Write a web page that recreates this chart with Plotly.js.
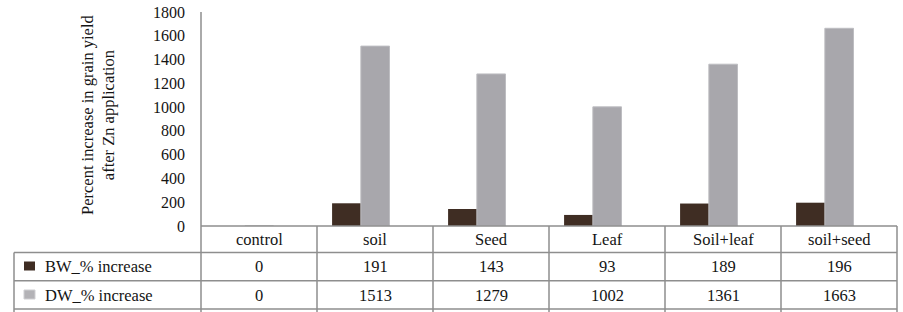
<!DOCTYPE html>
<html>
<head>
<meta charset="utf-8">
<script src="https://cdn.plot.ly/plotly-3.0.1.min.js"></script>
<style>
  html, body { margin: 0; padding: 0; background: #ffffff; }
  #chart { width: 903px; height: 312px; }
</style>
</head>
<body>
<div id="chart"></div>
<script>
// ---- Data ----
const categories = ['control', 'soil', 'Seed', 'Leaf', 'Soil+leaf', 'soil+seed'];
const bwIncrease = [0, 191, 143, 93, 189, 196];
const dwIncrease = [0, 1513, 1279, 1002, 1361, 1663];
const seriesNames = ['BW_% increase', 'DW_% increase'];
const yTickValues = [0, 200, 400, 600, 800, 1000, 1200, 1400, 1600, 1800];
const yTitleLines = ['Percent increase in grain yield', 'after Zn application'];

// ---- Layout geometry (pixels) ----
const FIG_W = 903, FIG_H = 312;
const L = 201, R = 897, T = 12, B = 226;
const W = R - L, H = B - T;
const px = x => (x - L) / W;
const py = y => (B - y) / H;

const FONT = '"Liberation Serif", Tinos, "Times New Roman", "DejaVu Serif", serif';
const TXT = '#141414';
const GRID = '#8e8e8e';
const BW_COLOR = '#3f2d23';
const DW_COLOR = '#a8a7ac';

const rowLines = [226, 252.5, 280.7, 309];
const rowCenters = [239.5, 266.5, 295];
const tableLeft = 14, tableBottom = 312;

const shapes = [];
function line(x0, y0, x1, y1) {
  shapes.push({type: 'line', xref: 'paper', yref: 'paper',
    x0: px(x0), y0: py(y0), x1: px(x1), y1: py(y1),
    line: {color: GRID, width: 1.5}});
}
line(L, rowLines[0], R, rowLines[0]);
for (let i = 1; i < rowLines.length; i++) line(tableLeft, rowLines[i], R, rowLines[i]);
line(tableLeft, rowLines[1], tableLeft, tableBottom);
line(L, T, L, tableBottom);
const n = categories.length;
for (let i = 1; i <= n; i++) {
  const x = L + i * W / n;
  line(x, rowLines[0], x, tableBottom);
}
shapes.push({type: 'rect', xref: 'paper', yref: 'paper',
  x0: px(24), x1: px(35), y0: py(261.5), y1: py(270.5),
  fillcolor: BW_COLOR, line: {width: 0}});
shapes.push({type: 'rect', xref: 'paper', yref: 'paper',
  x0: px(24), x1: px(35), y0: py(290), y1: py(299),
  fillcolor: '#b3b2b6', line: {color: '#cfcfd2', width: 1}});

const annotations = [];
const cellFont = {family: FONT, size: 16.5, color: TXT};
categories.forEach((c, i) => {
  const xc = (i + 0.5) / n;
  annotations.push({xref: 'paper', yref: 'paper', x: xc, y: py(rowCenters[0]),
    text: c, showarrow: false, xanchor: 'center', yanchor: 'middle', font: cellFont});
  annotations.push({xref: 'paper', yref: 'paper', x: xc, y: py(rowCenters[1]),
    text: String(bwIncrease[i]), showarrow: false, xanchor: 'center', yanchor: 'middle', font: cellFont});
  annotations.push({xref: 'paper', yref: 'paper', x: xc, y: py(rowCenters[2]),
    text: String(dwIncrease[i]), showarrow: false, xanchor: 'center', yanchor: 'middle', font: cellFont});
});
seriesNames.forEach((s, k) => {
  annotations.push({xref: 'paper', yref: 'paper', x: px(43), y: py(rowCenters[k + 1]),
    text: s, showarrow: false, xanchor: 'left', yanchor: 'middle', font: cellFont});
});
annotations.push({xref: 'paper', yref: 'paper', x: px(98), y: py(115),
  text: yTitleLines.join('<br>'), showarrow: false, textangle: -90,
  xanchor: 'center', yanchor: 'middle',
  font: {family: FONT, size: 16.5, color: TXT}});

const traces = [
  {type: 'bar', name: seriesNames[0], x: categories, y: bwIncrease,
   offset: -0.37, width: 0.25,
   marker: {color: BW_COLOR, line: {width: 0}}, hoverinfo: 'skip'},
  {type: 'bar', name: seriesNames[1], x: categories, y: dwIncrease,
   offset: -0.122, width: 0.247,
   marker: {color: DW_COLOR, line: {color: '#bdbdc1', width: 1}}, hoverinfo: 'skip'}
];

const layout = {
  width: FIG_W, height: FIG_H,
  margin: {l: L, r: FIG_W - R, t: T, b: FIG_H - B, pad: 0},
  paper_bgcolor: '#ffffff', plot_bgcolor: '#ffffff',
  showlegend: false,
  barmode: 'overlay',
  font: {family: FONT, size: 16, color: TXT},
  xaxis: {type: 'category', range: [-0.5, n - 0.5], showticklabels: false,
          showgrid: false, zeroline: false, showline: false, ticks: '', fixedrange: true},
  yaxis: {range: [0, 1800], tickvals: yTickValues, ticktext: yTickValues.map(String),
          showgrid: false, zeroline: false, showline: false, ticks: '',
          ticklabelstandoff: 15,
          tickfont: {family: FONT, size: 16, color: TXT}, fixedrange: true},
  shapes: shapes,
  annotations: annotations
};

Plotly.newPlot('chart', traces, layout, {displayModeBar: false, staticPlot: true});
</script>
</body>
</html>
